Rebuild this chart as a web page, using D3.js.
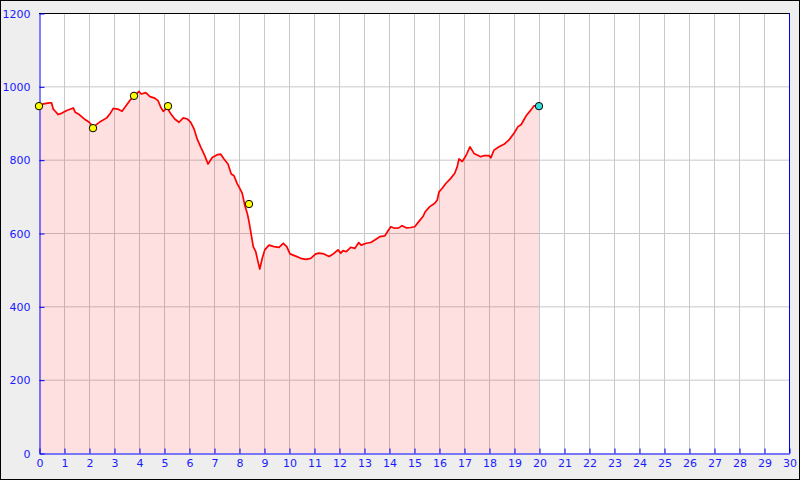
<!DOCTYPE html>
<html><head><meta charset="utf-8">
<script src="https://cdn.jsdelivr.net/npm/d3@7"></script>
<style>body{margin:0;background:#eee}svg{display:block}text{font-family:"DejaVu Sans",sans-serif}</style>
</head><body><svg id="c" width="800" height="480"></svg>
<script>
const distance = [0,0.17,0.41,0.5,0.57,0.65,0.77,0.92,1.11,1.37,1.45,1.61,1.81,2.01,2.17,2.28,2.48,2.71,2.84,2.97,3.15,3.32,3.48,3.65,3.81,4.0,4.09,4.27,4.44,4.63,4.76,4.87,4.97,5.07,5.15,5.27,5.43,5.6,5.77,5.93,6.07,6.2,6.33,6.47,6.63,6.76,6.93,7.11,7.27,7.4,7.56,7.69,7.8,7.93,8.0,8.13,8.23,8.33,8.4,8.47,8.57,8.67,8.76,8.83,8.93,9.03,9.2,9.4,9.6,9.77,9.91,10.04,10.27,10.47,10.67,10.87,11.07,11.2,11.4,11.6,11.77,11.96,12.07,12.16,12.29,12.47,12.63,12.79,12.89,13.09,13.27,13.43,13.63,13.83,13.96,14.07,14.23,14.39,14.52,14.69,14.87,15.03,15.19,15.36,15.45,15.63,15.83,15.93,16.0,16.13,16.27,16.47,16.63,16.73,16.8,16.93,17.07,17.24,17.4,17.67,17.8,18.0,18.07,18.2,18.4,18.6,18.8,19.0,19.16,19.29,19.43,19.51,19.67,19.8,20.0];
const elevation = [946,952,955,955,938,932,923,927,934,941,929,923,911,902,890,895,905,914,925,940,938,932,947,963,973,986,979,983,972,968,961,943,932,938,940,925,911,902,914,911,902,884,856,834,811,788,806,813,815,802,788,761,756,734,726,708,676,654,631,604,563,549,522,502,531,554,567,563,561,572,563,543,537,531,528,531,543,545,543,536,543,554,545,552,549,561,558,574,567,572,574,581,590,592,606,617,613,614,620,614,615,617,631,645,658,672,681,690,712,722,735,749,763,781,802,795,810,835,817,808,811,811,805,826,835,842,854,872,890,896,913,922,935,947,946];
const markerX = [0,2.16,3.8,5.16,8.4,20.0];
const markerY = [946,886,974,946,679,946];
const markerColor = ["#ffff00","#ffff00","#ffff00","#ffff00","#ffff00","#33dddd"];
const xTicks = d3.range(0,31);
const yTicks = [0,200,400,600,800,1000,1200];

const svg = d3.select("#c");
const W=800,H=480, L=39, R=789, T=13, B=453;
svg.append("rect").attr("x",0.5).attr("y",0.5).attr("width",W-1).attr("height",H-1).attr("fill","#eeeeee").attr("stroke","#000");
const x = d3.scaleLinear().domain([0,30]).range([L,R]);
const y = d3.scaleLinear().domain([0,1200]).range([B,T]);
svg.append("rect").attr("x",L).attr("y",T).attr("width",R-L).attr("height",B-T).attr("fill","#fff");
// grid
svg.append("g").selectAll("line").data(xTicks.filter(d=>d>0&&d<30)).join("line")
  .attr("x1",d=>x(d)+0.5).attr("x2",d=>x(d)+0.5).attr("y1",T).attr("y2",B).attr("stroke","#c8c8c8");
svg.append("g").selectAll("line").data(yTicks.filter(d=>d>0&&d<1200)).join("line")
  .attr("y1",d=>y(d)+0.5).attr("y2",d=>y(d)+0.5).attr("x1",L).attr("x2",R).attr("stroke","#c8c8c8");
const pts = distance.map((d,i)=>[d,elevation[i]]);
svg.append("path").datum(pts).attr("d",d3.area().x(d=>x(d[0])).y0(B).y1(d=>y(d[1])))
  .attr("fill","rgba(255,0,0,0.12)");
svg.append("path").datum(pts).attr("d",d3.line().x(d=>x(d[0])).y(d=>y(d[1])))
  .attr("fill","none").attr("stroke","#ff0000").attr("stroke-width",1.7).attr("stroke-linejoin","round");
// frame
svg.append("line").attr("x1",L).attr("x2",R).attr("y1",T+0.5).attr("y2",T+0.5).attr("stroke","#000");
svg.append("line").attr("x1",R+0.5).attr("x2",R+0.5).attr("y1",T).attr("y2",B).attr("stroke","#0000ff");
// axes
const xa = svg.append("g").attr("transform",`translate(0.5,${B+0.5})`)
  .call(d3.axisBottom(x).tickValues(xTicks).tickFormat(d3.format("d")).tickSizeInner(-5).tickSizeOuter(0).tickPadding(6));
const ya = svg.append("g").attr("transform",`translate(${L+0.5},0.5)`)
  .call(d3.axisLeft(y).tickValues(yTicks).tickFormat(d3.format("d")).tickSizeInner(-5).tickSizeOuter(0).tickPadding(9));
[xa,ya].forEach(g=>{
  g.selectAll("path,line").attr("stroke","#0000ff");
  g.selectAll("text").attr("fill","#1a1aff").style("font-size","11px").style("font-family","DejaVu Sans");
});
// markers
svg.append("g").selectAll("circle").data(markerX).join("circle")
  .attr("cx",d=>x(d)).attr("cy",(d,i)=>y(markerY[i])).attr("r",3.7)
  .attr("fill",(d,i)=>markerColor[i]).attr("stroke","#000").attr("stroke-width",1);
</script></body></html>
